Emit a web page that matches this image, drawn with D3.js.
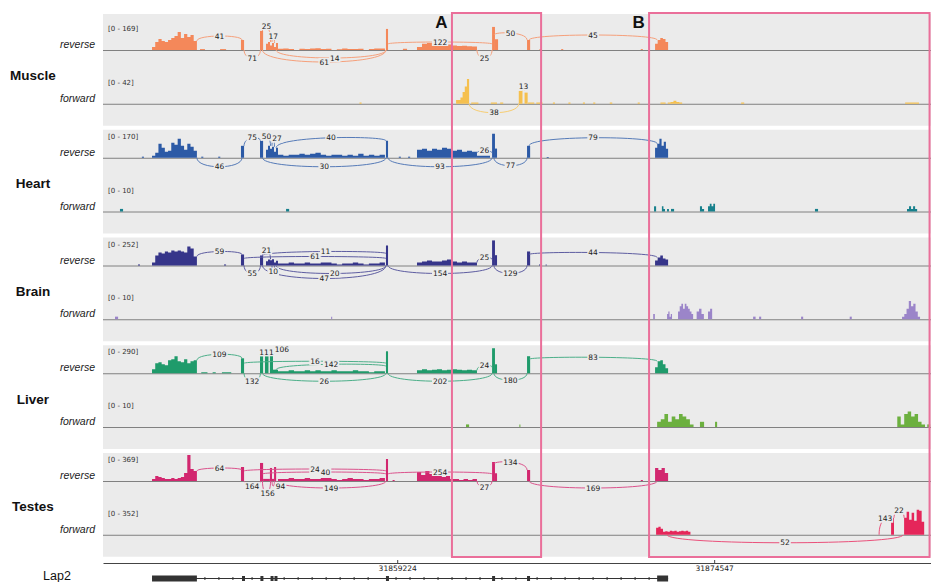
<!DOCTYPE html>
<html><head><meta charset="utf-8">
<script src="https://cdn.jsdelivr.net/npm/d3@7"></script>
<style>body{margin:0;background:#fff}svg{display:block}</style>
</head><body>
<svg id="c" width="931" height="582"></svg>
<script>
// ---------------- DATA ----------------
const ORIGIN = 31845000;               // genomic coordinate of kb 0 (positions below are in kb)
const regionEndKb = 40.03;
const tissues = ["Muscle", "Heart", "Brain", "Liver", "Testes"];
const strands = ["reverse", "forward"];
const reverseMax = [169, 170, 252, 290, 369];
const forwardMax = [42, 10, 10, 10, 352];
const tickPositions = [31859224, 31874547];
const geneName = "Lap2";
const exons = [[2.37, 4.54], [6.72, 6.82], [7.61, 7.71], [8.10, 8.17], [8.29, 8.37], [13.68, 13.78],
  [18.81, 18.90], [20.50, 20.60], [26.79, 27.32]];
const boxLabels = ["A", "B"];
const boxRanges = [[16.87, 21.18], [26.40, 39.96]];

// coverage blocks: [fromKb, toKb, depths in equal bins]
const muscleRev = [
  [2.37, 4.54, [20, 52, 72, 59, 52, 65, 78, 91, 117, 78, 104, 85, 98, 59]],
  [4.69, 4.93, [6]], [5.66, 5.95, [6]],
  [6.67, 6.82, [65]], [7.59, 7.74, [124]],
  [7.88, 8.46, [40, 52, 30, 45, 20, 45]],
  [8.46, 13.63, [8, 10, 6, 0, 8, 7, 10, 12, 6, 8, 0, 5, 9, 7, 6, 8, 0, 6, 9, 10]],
  [13.68, 13.78, [137]], [14.50, 14.70, [8]],
  [15.18, 18.08, [20, 40, 45, 38, 45, 42, 35, 30, 26, 28, 24, 22]],
  [18.81, 18.95, [150]], [18.95, 19.10, [70]],
  [20.50, 20.65, [65]], [21.10, 21.20, [6]], [22.15, 22.25, [6]], [26.00, 26.10, [6]],
  [26.69, 27.32, [40, 65, 78, 72, 52]]
];
const muscleFwd = [
  [12.40, 12.50, [2]],
  [17.07, 17.70, [6, 6, 10, 19, 28, 40]],
  [17.80, 18.15, [2]], [18.75, 19.05, [2]], [19.20, 19.35, [2]],
  [20.10, 20.28, [21]], [20.38, 20.53, [18]],
  [20.55, 20.85, [2]], [20.95, 21.25, [2]], [21.75, 21.85, [2]], [22.50, 22.60, [2]],
  [23.20, 23.30, [2]], [23.70, 23.80, [2]], [24.50, 24.62, [2]], [25.85, 25.95, [2]],
  [26.95, 27.20, [2]], [27.30, 28.00, [2, 3, 5, 3, 2]], [30.85, 31.00, [2]], [38.78, 39.45, [2]]
];
const heartRev = [
  [1.88, 1.98, [7]],
  [2.37, 4.54, [13, 33, 92, 65, 39, 46, 98, 85, 125, 78, 52, 92, 72, 46]],
  [4.75, 4.85, [7]], [5.57, 5.67, [7]],
  [6.67, 6.82, [78]], [7.59, 7.74, [111]],
  [7.88, 8.46, [52, 78, 59, 72, 40, 65]],
  [8.46, 13.63, [20, 13, 20, 20, 26, 20, 26, 33, 20, 13, 20, 20, 13, 20, 13, 26, 13, 20, 13, 20]],
  [13.68, 13.78, [111]], [14.30, 14.40, [7]], [14.75, 14.85, [7]],
  [15.18, 18.08, [52, 59, 46, 59, 52, 65, 59, 46, 52, 39, 46, 39]],
  [18.08, 18.71, [13]],
  [18.81, 18.95, [157]], [18.95, 19.05, [60]],
  [20.50, 20.65, [78]], [21.45, 21.55, [5]],
  [26.69, 27.32, [65, 92, 124, 78, 105, 59]]
];
const heartFwd = [
  [0.82, 0.97, [1]], [8.85, 9.00, [1]],
  [26.64, 26.74, [2]], [27.02, 27.17, [2, 1]], [27.27, 27.36, [1]], [27.46, 27.61, [1]],
  [28.86, 29.06, [2, 1]], [29.25, 29.59, [2, 3, 2, 3]],
  [34.42, 34.57, [1]], [38.87, 39.36, [1, 2, 1, 2, 1]]
];
const brainRev = [
  [1.69, 1.79, [10]],
  [2.37, 4.54, [29, 97, 126, 116, 136, 126, 146, 136, 146, 136, 126, 184, 165, 87]],
  [5.85, 5.95, [10]],
  [6.67, 6.82, [107]], [7.59, 7.74, [97]],
  [7.88, 8.46, [40, 58, 50, 60, 30, 45]],
  [8.46, 13.63, [19, 19, 29, 19, 19, 29, 19, 19, 29, 29, 19, 10, 19, 19, 29, 19, 10, 19, 19, 29]],
  [13.68, 13.78, [194]],
  [15.18, 18.08, [29, 39, 48, 39, 39, 48, 58, 39, 29, 39, 29, 29]],
  [18.81, 18.95, [243]], [18.95, 19.05, [100]],
  [20.50, 20.65, [136]], [21.08, 21.13, [10]], [21.40, 21.45, [10]],
  [26.69, 27.32, [48, 78, 97, 68, 58]]
];
const brainFwd = [
  [0.58, 0.73, [1]], [11.03, 11.08, [1]],
  [26.60, 26.68, [2]], [27.27, 27.51, [2, 3, 1, 2]],
  [27.80, 28.53, [3, 5, 6, 4, 6, 5, 4, 3, 2]],
  [28.70, 29.05, [3, 4, 2]], [29.25, 29.45, [3, 4]],
  [31.43, 31.55, [1]], [31.72, 31.82, [1]], [33.75, 33.85, [1]], [36.10, 36.20, [1]],
  [38.63, 39.50, [1, 2, 4, 7, 5, 6, 3, 1]]
];
const liverRev = [
  [2.37, 4.54, [45, 112, 123, 100, 89, 145, 156, 190, 134, 123, 156, 112, 134, 145]],
  [4.75, 5.05, [11]], [5.30, 5.45, [11]], [5.75, 6.20, [11]],
  [6.67, 6.82, [167]], [7.59, 7.74, [190]],
  [7.83, 8.00, [190]], [8.07, 8.22, [223]], [8.22, 8.46, [40]],
  [8.46, 13.63, [22, 22, 33, 22, 22, 33, 22, 33, 22, 22, 33, 22, 22, 22, 33, 22, 22, 11, 22, 22]],
  [13.68, 13.78, [245]],
  [15.18, 18.08, [33, 45, 33, 39, 45, 33, 39, 45, 39, 33, 39, 33]],
  [18.81, 18.95, [279]], [18.95, 19.05, [100]],
  [20.50, 20.65, [190]],
  [26.69, 27.32, [67, 134, 145, 100, 56]]
];
const liverFwd = [
  [17.55, 17.70, [1]], [20.13, 20.18, [1]],
  [26.79, 28.55, [2, 3, 5, 2, 4, 3, 5, 4, 3, 1]],
  [28.86, 29.06, [2]], [29.59, 29.69, [2]],
  [38.40, 39.74, [4, 1, 5, 6, 4, 5, 2, 1]], [39.85, 39.99, [1]]
];
const testesRev = [
  [2.37, 4.54, [28, 71, 57, 43, 28, 28, 43, 28, 43, 57, 114, 369, 170, 142]],
  [6.67, 6.82, [199]], [7.59, 7.74, [256]],
  [7.74, 8.07, [30]], [8.07, 8.17, [185]], [8.17, 8.27, [30]], [8.27, 8.37, [199]],
  [8.46, 13.63, [28, 28, 43, 28, 28, 43, 28, 28, 43, 43, 28, 14, 28, 43, 28, 28, 14, 28, 28, 43]],
  [13.68, 13.78, [312]], [14.00, 14.10, [14]],
  [15.18, 16.78, [128, 85, 142, 99, 128, 85, 57, 71]],
  [16.78, 18.08, [28, 28, 14, 28, 14, 28]],
  [18.81, 18.95, [270]], [18.95, 19.05, [110]],
  [20.50, 20.65, [156]], [26.00, 26.10, [14]],
  [26.69, 27.32, [185, 156, 185, 114]]
];
const testesFwd = [
  [26.74, 28.40, [95, 108, 81, 41, 47, 41, 54, 47, 54, 41, 47, 54, 47, 54, 41]],
  [38.10, 38.24, [230]],
  [38.73, 39.70, [230, 311, 203, 298, 190, 338, 325, 176]]
];

// splice junctions: [fromKb, toKb, read count, side (1 above / -1 below)]
const muscleRevJunctions = [
  [4.54, 6.72, 41, 1], [6.82, 7.61, 71, -1], [7.71, 8.10, 25, 1], [8.17, 8.29, 17, 1],
  [7.71, 13.68, 61, -1], [8.37, 13.68, 14, -1], [13.78, 18.81, 122, 1], [18.08, 18.81, 25, -1],
  [18.90, 20.50, 50, 1], [20.60, 26.79, 45, 1]
];
const muscleFwdJunctions = [[17.70, 20.10, 38, -1], [20.28, 20.38, 13, 1]];
const heartRevJunctions = [
  [4.54, 6.72, 46, -1], [6.82, 7.61, 75, 1], [7.71, 8.10, 50, 1], [8.17, 8.29, 27, 1],
  [8.37, 13.68, 40, 1], [7.71, 13.68, 30, -1], [13.78, 18.81, 93, -1], [18.08, 18.81, 26, 1],
  [18.90, 20.50, 77, -1], [20.60, 26.79, 79, 1]
];
const brainRevJunctions = [
  [4.54, 6.72, 59, 1], [6.82, 7.61, 55, -1], [7.71, 8.10, 21, 1], [8.17, 8.29, 10, -1],
  [7.71, 13.68, 11, 1], [6.82, 13.68, 61, 1], [8.37, 13.68, 20, -1], [7.71, 13.68, 47, -1],
  [13.78, 18.81, 154, -1], [18.08, 18.81, 25, 1], [18.90, 20.50, 129, -1], [20.60, 26.79, 44, 1]
];
const liverRevJunctions = [
  [4.54, 6.72, 109, 1], [6.82, 7.61, 132, -1], [7.71, 8.10, 111, 1], [8.17, 8.29, 106, 1],
  [6.82, 13.68, 16, 1], [8.37, 13.68, 142, 1], [7.71, 13.68, 26, -1], [13.78, 18.81, 202, -1],
  [18.08, 18.81, 24, 1], [18.90, 20.50, 180, -1], [20.60, 26.79, 83, 1]
];
const testesRevJunctions = [
  [4.54, 6.72, 64, 1], [6.82, 7.61, 164, -1], [7.71, 8.10, 156, -1], [8.17, 8.29, 94, -1],
  [6.82, 13.68, 24, 1], [7.71, 13.68, 40, 1], [8.37, 13.68, 149, -1], [13.78, 18.81, 254, 1],
  [18.08, 18.81, 27, -1], [18.90, 20.50, 134, 1], [20.60, 26.79, 169, -1]
];
const testesFwdJunctions = [[27.27, 38.68, 52, -1], [38.24, 38.73, 22, 1], [37.52, 38.10, 143, 1]];

// ---------------- LAYOUT / STYLE ----------------
const arcLift = {
  muscleRev: [14, 8, 24, 14, 12, 8, 8, 8, 17, 15], muscleFwd: [9, 17],
  heartRev: [9, 20, 21, 19, 20, 9, 9, 7, 8, 20], heartFwd: [],
  brainRev: [14, 8, 15, 6, 14, 9, 8, 13, 8, 8, 8, 13], brainFwd: [],
  liverRev: [19, 8, 21, 24, 12, 9, 8, 8, 8, 7, 16], liverFwd: [],
  testesRev: [13, 5, 12, 5, 12, 9, 7, 9, 6, 19, 7], testesFwd: [8, 24, 16]
};
const fills = [["#f4885a", "#f5c04f"], ["#2c5aa6", "#17808c"], ["#36358a", "#9b85c9"],
               ["#1f9b6b", "#6cb03f"], ["#d2276f", "#e5265a"]];
const coverage = [[muscleRev, muscleFwd], [heartRev, heartFwd], [brainRev, brainFwd], [liverRev, liverFwd], [testesRev, testesFwd]];
const junctions = [[muscleRevJunctions, muscleFwdJunctions], [heartRevJunctions, []], [brainRevJunctions, []],
                   [liverRevJunctions, []], [testesRevJunctions, testesFwdJunctions]];
const keys = [["muscleRev", "muscleFwd"], ["heartRev", "heartFwd"], ["brainRev", "brainFwd"], ["liverRev", "liverFwd"], ["testesRev", "testesFwd"]];

const X0 = 103, X1 = 931, PITCH = 107.75, REV0 = 50, FWD_OFF = 53.75, COV_H = 26;
const PANEL_BG = "#ebebeb";

const svg = d3.select("#c");
const x = d3.scaleLinear().domain([0, regionEndKb]).range([X0, X1]);

// panels
tissues.forEach((t, i) => {
  const rb = REV0 + i * PITCH, fb = rb + FWD_OFF;
  const top = i === 0 ? 14 : rb - 28;
  svg.append("rect").attr("x", X0).attr("y", top).attr("width", X1 - X0).attr("height", fb + 22 - top).attr("fill", PANEL_BG);
  svg.append("text").attr("x", 33).attr("y", (rb + fb) / 2 - 1).attr("text-anchor", "middle")
    .attr("dominant-baseline", "central").attr("font-family", "Liberation Sans, Arial, sans-serif")
    .attr("font-weight", "bold").attr("font-size", 13.5).attr("fill", "#111").text(t);
});

const fmtCount = d3.format("d");
const txtFont = "DejaVu Sans, sans-serif";

tissues.forEach((t, i) => {
  [0, 1].forEach(s => {
    const base = REV0 + i * PITCH + s * FWD_OFF;
    const max = s === 0 ? reverseMax[i] : forwardMax[i];
    const y = d3.scaleLinear().domain([0, max]).range([base, base - COV_H]);
    const g = svg.append("g");
    g.append("line").attr("x1", X0).attr("x2", X1).attr("y1", base + 0.5).attr("y2", base + 0.5)
      .attr("stroke", "#808080").attr("stroke-width", 1);
    svg.append("text").attr("x", 95).attr("y", base - 2).attr("text-anchor", "end")
      .attr("font-family", "Liberation Sans, Arial, sans-serif").attr("font-style", "italic")
      .attr("font-size", 10.5).attr("fill", "#222").text(strands[s]);
    g.append("text").attr("x", 108).attr("y", base - 21).attr("dominant-baseline", "central")
      .attr("font-family", txtFont).attr("font-size", 7).attr("fill", "#333").text(`[0 - ${max}]`);
    const blocks = coverage[i][s];
    const area = d3.area().x(d => x(d[0])).y0(base).y1(d => y(d[1])).curve(d3.curveStepAfter);
    blocks.forEach(b => {
      const n = b[2].length, w = (b[1] - b[0]) / n;
      const pts = b[2].map((v, k) => [b[0] + k * w, v]);
      pts.push([b[1], b[2][n - 1]]);
      g.append("path").attr("d", area(pts)).attr("fill", fills[i][s]);
    });
    const covPx = kb => {
      let m = 0;
      blocks.forEach(b => {
        const n = b[2].length, w = (b[1] - b[0]) / n;
        b[2].forEach((v, k) => {
          const a = b[0] + k * w, e = a + w;
          if (e >= kb - 0.1 && a <= kb + 0.1) m = Math.max(m, v);
        });
      });
      return base - y(m);
    };
    const arcColor = d3.interpolateRgb(fills[i][s], "#ffffff")(0.2);
    const lifts = arcLift[keys[i][s]];
    const jg = svg.append("g");
    const labels = [];
    junctions[i][s].forEach((j, k) => {
      const lift = lifts[k];
      const x1 = x(j[0]), x2 = x(j[1]);
      let y1, y2, apex;
      if (j[3] > 0) {
        apex = base - lift;
        y1 = base - Math.min(covPx(j[0]), lift - 2);
        y2 = base - Math.min(covPx(j[1]), lift - 2);
      } else {
        apex = base + lift; y1 = base; y2 = base;
      }
      const yc = (apex - (y1 + y2) / 8) / 0.75;
      jg.append("path").attr("d", `M${x1},${y1}C${x1},${yc} ${x2},${yc} ${x2},${y2}`)
        .attr("fill", "none").attr("stroke", arcColor).attr("stroke-width", 1);
      labels.push({ x: (x1 + x2) / 2, y: apex, text: fmtCount(j[2]) });
    });
    // label placement with simple horizontal collision avoidance
    const lg = svg.append("g");
    labels.forEach(l => {
      l.node = lg.append("text").attr("y", l.y).attr("text-anchor", "middle")
        .attr("dominant-baseline", "central").attr("font-family", txtFont).attr("font-size", 7.5)
        .attr("fill", "#222").text(l.text);
      l.w = l.node.node().getComputedTextLength();
    });
    labels.sort((a, b) => a.x - b.x);
    const placed = [];
    labels.forEach(l => {
      placed.forEach(p => {
        if (Math.abs(p.y - l.y) < 8 && Math.abs(p.x - l.x) < (p.w + l.w) / 2 + 1) {
          l.x = p.x + (p.w + l.w) / 2 + 1;
        }
      });
      placed.push(l);
    });
    labels.forEach(l => {
      l.node.attr("x", l.x);
      lg.insert("rect", () => l.node.node()).attr("x", l.x - l.w / 2 - 1).attr("y", l.y - 4)
        .attr("width", l.w + 2).attr("height", 8).attr("fill", PANEL_BG);
    });
  });
});

// genomic axis
const axisY = 563;
const axis = d3.axisBottom(x).tickValues(tickPositions.map(p => (p - ORIGIN) / 1000))
  .tickFormat(d => d3.format("d")(Math.round(ORIGIN + d * 1000))).tickSizeInner(-3).tickSizeOuter(0).tickPadding(3);
const ag = svg.append("g").attr("transform", `translate(0,${axisY})`).call(axis);
ag.select(".domain").attr("stroke", "#444");
ag.selectAll(".tick line").attr("stroke", "#444");
ag.selectAll(".tick text").attr("font-family", txtFont).attr("font-size", 7.5).attr("fill", "#222");

// gene model
const geneY = 578.5;
const gg = svg.append("g");
gg.append("line").attr("x1", x(exons[0][0])).attr("x2", x(exons[exons.length - 1][1]))
  .attr("y1", geneY).attr("y2", geneY).attr("stroke", "#333").attr("stroke-width", 1);
for (let k = 0; k < exons.length - 1; k++) {
  const a = x(exons[k][1]), b = x(exons[k + 1][0]);
  for (let p = a + 8; p < b - 4; p += 14) {
    gg.append("line").attr("x1", p).attr("x2", p).attr("y1", geneY - 1.5).attr("y2", geneY + 1.5)
      .attr("stroke", "#333").attr("stroke-width", 1);
  }
}
exons.forEach((e, k) => {
  const big = k === 0 || k === exons.length - 1;
  const w = Math.max(3, x(e[1]) - x(e[0]));
  gg.append("rect").attr("x", x(e[0])).attr("y", geneY - (big ? 3 : 2.5)).attr("width", w)
    .attr("height", big ? 6 : 5).attr("fill", "#333");
});
svg.append("text").attr("x", 57).attr("y", 580).attr("text-anchor", "middle")
  .attr("font-family", "Liberation Sans, Arial, sans-serif").attr("font-size", 12.5).attr("fill", "#111").text(geneName);

// highlight boxes
boxRanges.forEach((r, k) => {
  svg.append("rect").attr("x", x(r[0])).attr("y", 13).attr("width", x(r[1]) - x(r[0])).attr("height", 544)
    .attr("fill", "none").attr("stroke", "#ea6f9a").attr("stroke-width", 2);
  svg.append("text").attr("x", x(r[0]) - 10.5).attr("y", 22).attr("text-anchor", "middle")
    .attr("dominant-baseline", "central").attr("font-family", "Liberation Sans, Arial, sans-serif")
    .attr("font-weight", "bold").attr("font-size", 17).attr("fill", "#111").text(boxLabels[k]);
});
</script>
</body></html>
